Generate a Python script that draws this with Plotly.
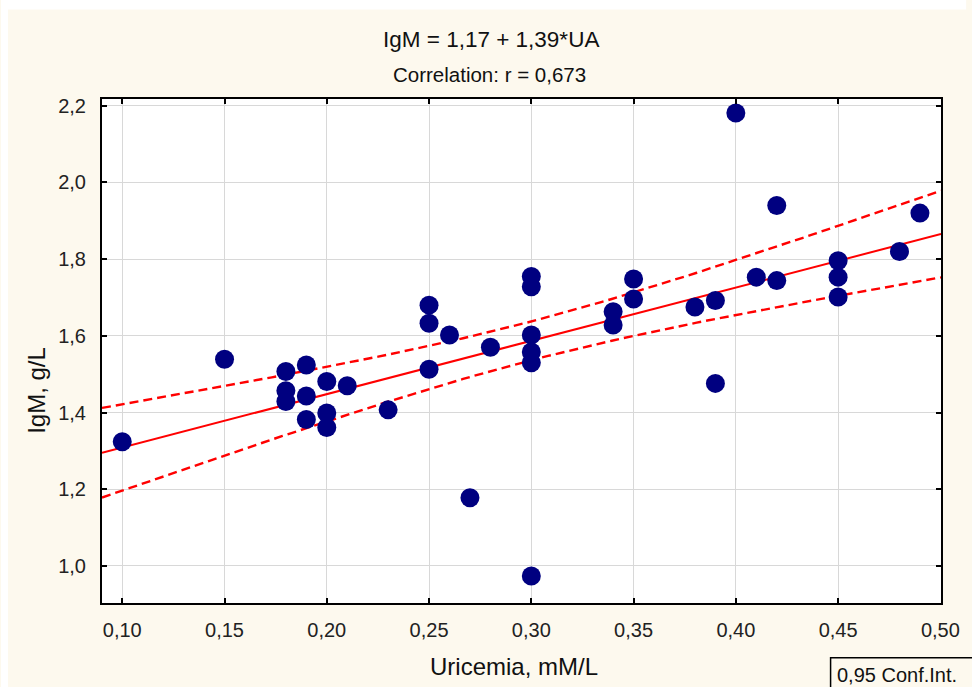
import numpy as np
import plotly.graph_objects as go

# ---- data ----
uricemia = [0.10, 0.15, 0.18, 0.18, 0.18, 0.19, 0.19, 0.19, 0.20, 0.20, 0.20,
            0.21, 0.23, 0.25, 0.25, 0.25, 0.26, 0.27, 0.28,
            0.30, 0.30, 0.30, 0.30, 0.30, 0.30,
            0.34, 0.34, 0.35, 0.35, 0.38, 0.39, 0.39, 0.40, 0.41,
            0.42, 0.42, 0.45, 0.45, 0.45, 0.48, 0.49]
igm = [1.324, 1.539, 1.507, 1.457, 1.429, 1.524, 1.443, 1.382, 1.481, 1.399, 1.361,
       1.470, 1.407, 1.680, 1.633, 1.513, 1.602, 1.178, 1.570,
       1.755, 1.728, 1.602, 1.558, 1.530, 0.974,
       1.663, 1.628, 1.748, 1.696, 1.675, 1.692, 1.476, 2.181, 1.753,
       1.940, 1.744, 1.796, 1.753, 1.701, 1.820, 1.920]

INTERCEPT = 1.17
SLOPE = 1.39
R_VALUE = "0,673"
T_CRIT = 2.023  # t(0.975, n-2)

x_ticks = [0.10, 0.15, 0.20, 0.25, 0.30, 0.35, 0.40, 0.45, 0.50]
y_ticks = [1.0, 1.2, 1.4, 1.6, 1.8, 2.0, 2.2]
X_RANGE = [0.0901, 0.5003]
Y_RANGE = [0.9034, 2.2175]

# ---- regression line and 95% confidence band of the mean ----
xa = np.array(uricemia)
ya = np.array(igm)
n = len(xa)
resid = ya - (INTERCEPT + SLOPE * xa)
s = np.sqrt(np.sum(resid ** 2) / (n - 2))
xbar = xa.mean()
sxx = np.sum((xa - xbar) ** 2)
xg = np.linspace(X_RANGE[0], X_RANGE[1], 80)
yg = INTERCEPT + SLOPE * xg
half = T_CRIT * s * np.sqrt(1.0 / n + (xg - xbar) ** 2 / sxx)

CREAM = "#fdf9ee"
FONT = "Liberation Sans, Arial, sans-serif"
W, H = 972, 687
L, R, T, B = 101.7, 25.3, 99.3, 84.3
PW, PH = W - L - R, H - T - B


def px_x(p):
    return (p - L) / PW


def px_y(p):
    return (H - B - p) / PH


fig = go.Figure()
fig.add_trace(go.Scatter(x=xg, y=yg + half, mode="lines",
                         line=dict(color="#ff0000", width=2.4, dash="9px,5px"),
                         hoverinfo="skip"))
fig.add_trace(go.Scatter(x=xg, y=yg - half, mode="lines",
                         line=dict(color="#ff0000", width=2.4, dash="9px,5px"),
                         hoverinfo="skip"))
fig.add_trace(go.Scatter(x=xg, y=yg, mode="lines",
                         line=dict(color="#ff0000", width=2),
                         hoverinfo="skip"))
fig.add_trace(go.Scatter(x=uricemia, y=igm, mode="markers",
                         marker=dict(color="#000080", size=19, line=dict(width=0))))

axis_common = dict(showline=True, linecolor="black", linewidth=2, mirror="ticks",
                   ticks="inside", ticklen=5, tickwidth=1.5, tickcolor="black",
                   showgrid=True, gridcolor="#d8d8d8", gridwidth=1.2, zeroline=False,
                   tickfont=dict(family=FONT, size=20, color="#222"))

fig.update_layout(
    width=W, height=H,
    margin=dict(l=L, r=R, t=T, b=B, pad=0),
    paper_bgcolor=CREAM, plot_bgcolor="white",
    showlegend=False,
    separators=", ",
    xaxis=dict(range=X_RANGE, tickvals=x_ticks, tickformat=".2f",
               ticklabelstandoff=8, **axis_common),
    yaxis=dict(range=Y_RANGE, tickvals=y_ticks, tickformat=".1f",
               ticklabelstandoff=10, **axis_common),
    shapes=[
        dict(type="rect", xref="paper", yref="paper", x0=px_x(0), x1=px_x(7),
             y0=px_y(H), y1=px_y(0), fillcolor="white", line=dict(width=0), layer="below"),
        dict(type="rect", xref="paper", yref="paper", x0=px_x(0), x1=px_x(W),
             y0=px_y(10), y1=px_y(0), fillcolor="white", line=dict(width=0), layer="below"),
        # legend frame, running past the right and bottom edges as in the reference
        dict(type="rect", xref="paper", yref="paper", x0=px_x(835.5), x1=px_x(W + 20),
             y0=px_y(H + 20), y1=px_y(657.5), fillcolor=CREAM,
             line=dict(color="black", width=1.5), layer="above"),
    ],
    annotations=[
        dict(text="IgM = 1,17 + 1,39*UA", xref="paper", yref="paper",
             x=px_x(493), y=px_y(40), xanchor="center", yanchor="middle", showarrow=False,
             font=dict(family=FONT, size=22.5, color="#111")),
        dict(text="Correlation: r = " + R_VALUE, xref="paper", yref="paper",
             x=px_x(492), y=px_y(74.5), xanchor="center", yanchor="middle", showarrow=False,
             font=dict(family=FONT, size=20.5, color="#111")),
        dict(text="Uricemia, mM/L", xref="paper", yref="paper",
             x=px_x(517), y=px_y(666), xanchor="center", yanchor="middle", showarrow=False,
             font=dict(family="Liberation Sans Narrow, Liberation Sans, Arial, sans-serif", size=24, color="#111")),
        dict(text="IgM, g/L", xref="paper", yref="paper", textangle=-90,
             x=px_x(35), y=px_y(390), xanchor="center", yanchor="middle", showarrow=False,
             font=dict(family=FONT, size=24, color="#111")),
        dict(text="0,95 Conf.Int.", xref="paper", yref="paper",
             x=px_x(840), y=px_y(675), xanchor="left", yanchor="middle", showarrow=False,
             align="left",
             font=dict(family=FONT, size=20, color="#111")),
    ],
)

fig.write_html("out.html")
